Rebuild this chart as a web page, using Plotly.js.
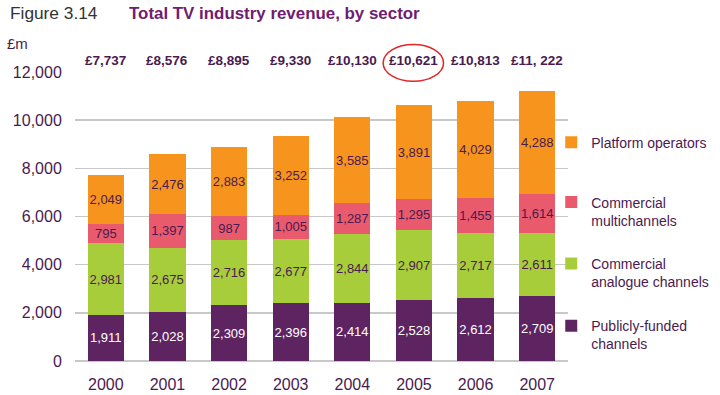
<!DOCTYPE html>
<html><head><meta charset="utf-8">
<script src="https://cdn.plot.ly/plotly-3.0.1.min.js"></script>
<style>body{margin:0;padding:0;background:#fff}#chart{width:720px;height:395px}</style>
</head><body><div id="chart"></div>
<script>
const years = ['2000','2001','2002','2003','2004','2005','2006','2007'];
const publiclyFunded = [1911, 2028, 2309, 2396, 2414, 2528, 2612, 2709];
const commercialAnalogue = [2981, 2675, 2716, 2677, 2844, 2907, 2717, 2611];
const commercialMulti = [795, 1397, 987, 1005, 1287, 1295, 1455, 1614];
const platformOperators = [2049, 2476, 2883, 3252, 3585, 3891, 4029, 4288];
const totalLabels = ['£7,737','£8,576','£8,895','£9,330','£10,130','£10,621','£10,813','£11, 222'];
const seriesNames = ['Publicly-funded<br>channels','Commercial<br>analogue channels','Commercial<br>multichannels','Platform operators'];

const colors = ['#5E2462','#A8CD3A','#E95A6C','#F7941E'];
const textColors = ['#ffffff','#4A1A50','#4A1A50','#4A1A50'];
const series = [publiclyFunded, commercialAnalogue, commercialMulti, platformOperators];
const fmt = v => v.toLocaleString('en-US');
const FONT = 'Liberation Sans, Arial, sans-serif';
const legendIds = ['legend4', 'legend3', 'legend2', 'legend'];
const legendTops = [0.176, 0.391, 0.604, 0.811];

const traces = series.map((vals, i) => ({
  type: 'bar', x: years, y: vals, name: seriesNames[i],
  legend: legendIds[i],
  marker: {color: colors[i], line: {width: 0}},
  text: vals.map(fmt), textposition: 'inside', insidetextanchor: 'middle',
  textangle: 0, constraintext: 'none',
  insidetextfont: {family: FONT, size: 13, color: textColors[i]},
  hoverinfo: 'skip'
}));

const annotations = years.map((yr, i) => ({
  x: i, y: 1, xref: 'x', yref: 'paper', yanchor: 'bottom', yshift: 2,
  text: '<b>' + totalLabels[i] + '</b>', showarrow: false,
  font: {family: FONT, size: 13.5, color: '#4A1A50'}
}));
annotations.push({
  x: -0.136, y: 1.204, xref: 'paper', yref: 'paper', xanchor: 'left', yanchor: 'middle',
  text: 'Figure 3.14', showarrow: false,
  font: {family: FONT, size: 17.3, color: '#333333'}
});
annotations.push({
  x: 0.105, y: 1.204, xref: 'paper', yref: 'paper', xanchor: 'left', yanchor: 'middle',
  text: '<b>Total TV industry revenue, by sector</b>', showarrow: false,
  font: {family: FONT, size: 16.9, color: '#701C72'}
});
annotations.push({
  x: -0.142, y: 1.097, xref: 'paper', yref: 'paper', xanchor: 'left', yanchor: 'middle',
  text: '£m', showarrow: false,
  font: {family: FONT, size: 15, color: '#4A1A50'}
});

function legendCfg(top) {
  return {x: 0.966, y: top, xanchor: 'left', yanchor: 'top', valign: 'top',
          font: {family: FONT, size: 14, color: '#4A1A50'}, bgcolor: 'rgba(0,0,0,0)'};
}

const layout = {
  width: 720, height: 395,
  margin: {l: 75, r: 152, t: 72, b: 34, autoexpand: false},
  paper_bgcolor: '#ffffff', plot_bgcolor: '#ffffff',
  barmode: 'stack', bargap: 0.41,
  font: {family: FONT, size: 14, color: '#4A1A50'},
  xaxis: {type: 'category', range: [-0.5, 7.5], autorange: false, showgrid: false, showline: false,
          ticks: 'outside', ticklen: 9, tickcolor: 'rgba(0,0,0,0)', zeroline: false,
          tickfont: {size: 16, color: '#4A1A50'}},
  yaxis: {range: [0, 12000], autorange: false, dtick: 2000, tickformat: ',', showgrid: true,
          gridcolor: '#C8C8C8', gridwidth: 1.5, zeroline: true, zerolinecolor: '#C8C8C8', zerolinewidth: 1.5,
          showline: false, ticks: 'outside', ticklen: 9, tickcolor: 'rgba(0,0,0,0)',
          tickfont: {size: 16, color: '#4A1A50'}},
  showlegend: true,
  legend: legendCfg(legendTops[3]),
  legend2: legendCfg(legendTops[2]),
  legend3: legendCfg(legendTops[1]),
  legend4: legendCfg(legendTops[0]),
  annotations: annotations,
  shapes: [{type: 'circle', xref: 'x', yref: 'paper', x0: 4.5, x1: 5.48, y0: 0.968, y1: 1.095,
            line: {color: '#E0262A', width: 1.5}}]
};

Plotly.newPlot('chart', traces, layout, {displayModeBar: false, staticPlot: true});
</script></body></html>
